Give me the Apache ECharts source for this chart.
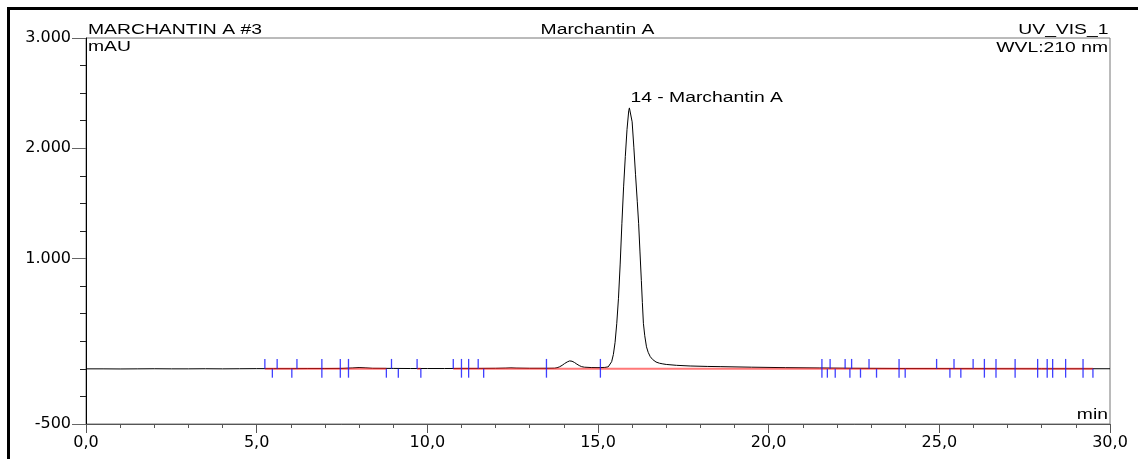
<!DOCTYPE html>
<html><head><meta charset="utf-8">
<script src="https://cdn.jsdelivr.net/npm/echarts@6/dist/echarts.min.js"></script>
<style>html,body{margin:0;padding:0;background:#fff}#c{width:1138px;height:459px}</style>
</head><body><div id="c"></div>
<script>
// ---- data ----
const sigT = [0,0.5,1,1.5,2,2.5,3,3.5,4,4.5,5,5.5,6,6.5,7,7.5,7.8,8.0,8.2,8.4,9,9.5,10,10.5,11,11.5,12,12.3,12.45,12.6,13,13.5,
  13.73,13.8,13.87,13.95,14.02,14.1,14.17,14.24,14.31,14.38,14.45,14.52,14.6,14.8,15.0,15.2,
  15.30,15.35,15.40,15.45,15.50,15.55,15.60,15.65,15.70,15.75,15.80,15.85,15.90,15.92,15.95,
  16.00,16.05,16.10,16.15,16.19,16.23,16.27,16.30,16.33,16.37,16.42,16.47,16.53,16.60,16.70,16.80,16.90,
  17.0,17.3,17.7,18.2,18.6,19.5,20.5,21.5,22.5,24,26,28,30];
const sigV = [0,0,-1,0,1,0,0,1,0,1,2,2,2,3,3,4,8,12,9,5,4,3,3,3,4,4,5,7,9,7,5,5,
  6,10,18,32,48,63,72,69,58,43,30,20,15,12,11,13,
  18,30,65,130,240,413,640,950,1320,1650,1924,2170,2340,2366,2350,
  2240,2010,1760,1520,1320,1060,800,600,413,300,200,150,111,85,62,51,45,
  40,32,26,22,20,15,11,8,5,3,2,1,1];
// integration/peak-boundary markers: time and kind (1 = above baseline, -1 = below, 0 = both)
const markT = [5.24,5.46,5.60,6.03,6.18,6.91,7.45,7.69,8.80,8.95,9.15,9.70,9.81,10.76,11.00,11.21,11.49,11.65,13.49,15.07,
  21.56,21.72,21.80,21.95,22.24,22.38,22.43,22.69,22.94,23.16,23.82,24.00,24.92,25.31,25.43,25.63,25.99,26.32,26.66,27.22,
  27.88,28.16,28.32,28.70,29.21,29.50];
const markK = [1,-1,1,-1,1,0,0,0,-1,1,-1,1,-1,1,0,0,1,-1,0,0,
  0,-1,1,-1,1,-1,1,-1,1,-1,0,-1,1,-1,1,-1,1,0,0,0,
  0,0,0,0,0,-1];
const baseSegs = [[5.24,8.80],[9.70,9.81],[10.76,29.50]];
const yLabelValues = [-500,1000,2000,3000];
const peakT = 15.92, peakV = 2366, peakName = '14 - Marchantin A';
const headerLeft = 'MARCHANTIN A #3', headerCenter = 'Marchantin A', headerRight = 'UV_VIS_1';
const unitY = 'mAU', unitX = 'min', wvl = 'WVL:210 nm';

// ---- build ----
const MARK_UP = 90, MARK_DN = -80;
const SX = 1.38;
const FONT = '14px "Liberation Sans", Arial, sans-serif';
const sig = sigT.map((t,i)=>[t,sigV[i]]);
const base = [];
baseSegs.forEach((s,i)=>{ if(i) base.push([null,null]); base.push([s[0],0],[s[1],0]); });
const marks = markT.map((t,i)=>[t,markK[i]]);

function txt(text,x,y,align){
  return {type:'text',x:x,y:y,scaleX:SX,silent:true,
    style:{text:text,font:FONT,fill:'#000',align:align,verticalAlign:'middle',textAlign:align,textVerticalAlign:'middle'}};
}

const chart = echarts.init(document.getElementById('c'),null,{renderer:'canvas'});
chart.setOption({
  animation:false,
  backgroundColor:'#fff',
  grid:{left:86,right:28,top:38,bottom:35,show:true,borderColor:'#777',borderWidth:1,backgroundColor:'transparent',containLabel:false,outerBoundsMode:'none'},
  xAxis:{type:'value',min:0,max:30,interval:5,
    axisLine:{show:true,onZero:false,lineStyle:{color:'#555',width:1}},
    axisTick:{show:true,length:9,lineStyle:{color:'#555'}},
    minorTick:{show:true,splitNumber:5,length:4,lineStyle:{color:'#555'}},
    splitLine:{show:false},
    axisLabel:{margin:11,color:'#000',fontFamily:'DejaVu Sans',fontSize:16,
      formatter:v=>v.toFixed(1).replace('.',',')}},
  yAxis:[
    {type:'value',min:-500,max:3000,interval:250,
      axisLine:{show:true,onZero:false,lineStyle:{color:'#000',width:1}},
      axisTick:{show:true,inside:false,length:6,lineStyle:{color:'#222',width:1}},
      splitLine:{show:false},
      axisLabel:{margin:15,color:'#000',fontFamily:'DejaVu Sans',fontSize:16,interval:0,showMinLabel:true,showMaxLabel:true,
        formatter:v=>(yLabelValues.indexOf(v)<0?'':(Math.abs(v)>=1000?(v/1000).toFixed(3):String(v)))}},
    {type:'value',min:-500,max:3000,interval:250,position:'left',offset:0,
      axisLine:{show:false},
      axisTick:{show:true,inside:false,length:14,customValues:yLabelValues,lineStyle:{color:'#666',width:1}},
      axisLabel:{show:false},splitLine:{show:false}}
  ],
  graphic:[
    {type:'rect',silent:true,shape:{x:8.5,y:8.5,width:1300,height:600},style:{fill:'none',stroke:'#000',lineWidth:3}},
    txt(headerLeft,88,30.5,'left'),
    txt(unitY,88,47.5,'left'),
    txt(headerCenter,597.5,30.5,'center'),
    txt(headerRight,1108.5,30.5,'right'),
    txt(wvl,1108,48,'right'),
    txt(unitX,1108,415,'right')
  ],
  series:[
    {type:'line',data:sig,showSymbol:false,smooth:false,silent:true,z:2,
      lineStyle:{color:'#000',width:1}},
    {type:'line',data:base,showSymbol:false,connectNulls:false,silent:true,z:3,
      lineStyle:{color:'rgba(255,30,30,0.6)',width:2}},
    {type:'custom',data:marks,silent:true,clip:false,z:4,
      renderItem:function(p,api){
        const t=api.value(0),k=api.value(1);
        const a=api.coord([t,k<0?0:MARK_UP]);
        const b=api.coord([t,k>0?0:MARK_DN]);
        return {type:'line',shape:{x1:a[0],y1:a[1],x2:b[0],y2:b[1]},style:{stroke:'rgba(30,30,255,0.85)',lineWidth:1.3}};
      }},
    {type:'custom',data:[[peakT,peakV]],silent:true,clip:false,z:5,
      renderItem:function(p,api){
        const c=api.coord([api.value(0),api.value(1)]);
        return {type:'text',x:c[0]+1,y:c[1]-10,scaleX:SX,
          style:{text:peakName,font:FONT,fill:'#000',align:'left',verticalAlign:'middle',textAlign:'left',textVerticalAlign:'middle'}};
      }}
  ]
});
</script></body></html>
